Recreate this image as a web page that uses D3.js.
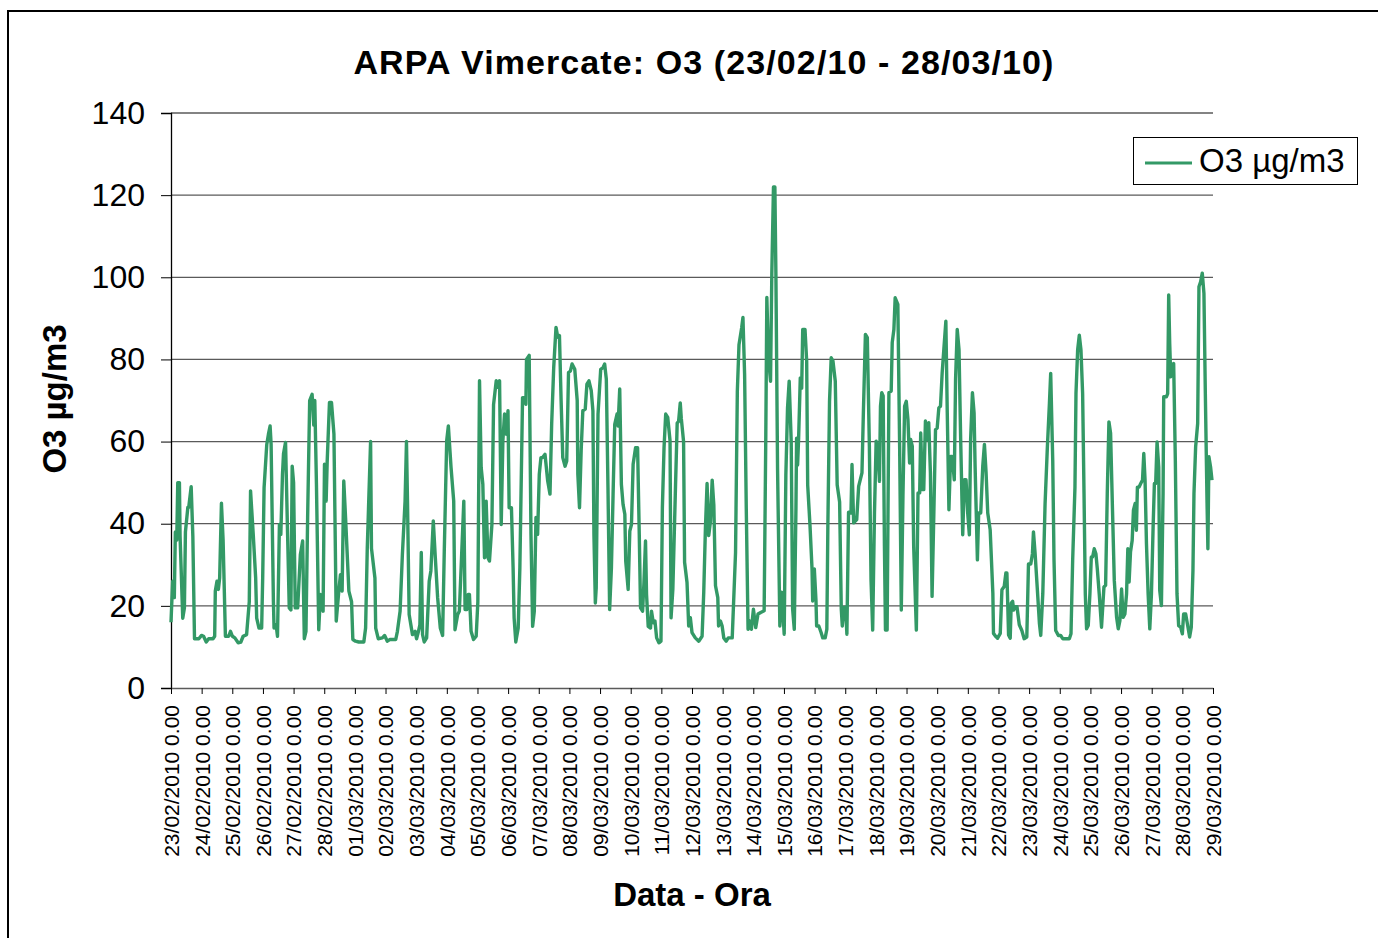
<!DOCTYPE html>
<html>
<head>
<meta charset="utf-8">
<script src="https://cdn.jsdelivr.net/npm/d3@7"></script>
<style>
  html, body { margin: 0; padding: 0; background: #fff; }
  svg { display: block; font-family: "Liberation Sans", Arial, sans-serif; }
</style>
</head>
<body>
<svg id="chart" width="1378" height="938"></svg>
<script>
// hours since 23/02/2010 0.00 and O3 (µg/m3)
const hours = [
  0, 1.3, 2.6, 3.4, 4.5, 5.3, 6.6, 7.1, 9.2, 10.5, 11.3, 13.2, 13.9, 15.8, 17.1, 18.4, 21.8, 23.9, 25.5, 27.6,
  29.5, 32.9, 34.2, 34.7, 36, 37.1, 38.1, 39.5, 40.8, 42.6, 45.2, 46.6, 48.1, 50, 52.6, 54.7, 56.5, 59.2, 61.3, 62.3,
  64.4, 66.3, 67.1, 68.9, 71, 71.8, 72.9, 75, 76.3, 77.6, 78.4, 80.2, 80.7, 82.3, 83.4, 84.9, 86, 87.3, 88.1, 89.7,
  91.3, 92.6, 93.9, 94.9, 96, 97.3, 99.2, 101.3, 103.1, 104.4, 105.7, 107, 108.6, 110.5, 111.8, 112.6, 113.9, 115.7, 117, 119.1,
  120.2, 121.5, 122.3, 124.1, 125.7, 127.6, 129.4, 131.4, 132.7, 134, 135.3, 136.7, 139.3, 141.4, 142.4, 144.5, 147, 151, 152.4, 153.7,
  156.3, 157, 159.7, 160.3, 162.3, 165.5, 167.3, 169.4, 171.3, 176, 177.3, 179.4, 181.2, 183.3, 184.4, 185.2, 186.5, 189.1, 191.2, 192.3,
  193.8, 194.9, 196, 197, 198.3, 200.2, 202.2, 203.5, 205.4, 207, 208.8, 210.9, 212.7, 214, 215.9, 217.2, 219.3, 221.4, 222.4, 224.5,
  225.8, 227.2, 229.3, 230.3, 231.6, 232.7, 233.7, 235, 236.9, 239, 240.3, 241.6, 242.9, 244.2, 245.5, 246.8, 248.2, 249.4, 251.3, 252.6,
  254.7, 256, 257.3, 258.6, 259.9, 261.2, 262.6, 263.9, 264.8, 266.6, 267.9, 268.7, 270, 271.9, 273.2, 275.3, 277.1, 277.9, 278.4, 280.5,
  281.9, 283.2, 284.5, 285.8, 287.1, 288.4, 289.7, 291, 292.9, 295, 296.8, 298.1, 299.7, 301.5, 302.9, 304.2, 305.5, 306.8, 308.6, 309.9,
  311.3, 312.8, 314.1, 316.2, 318.1, 318.6, 319.9, 321.2, 322.5, 324.4, 325.7, 327.3, 329.1, 330.4, 331.2, 332.3, 333, 334.4, 336.5, 338.3,
  339.6, 340.9, 342.2, 343.5, 344.9, 346.2, 347.5, 349.3, 350.1, 351.4, 352.7, 354, 355.4, 356.1, 358, 359.3, 360.6, 361.9, 363.8, 365.4,
  366.7, 367.7, 369.3, 370.3, 371.6, 372.4, 373.7, 375.5, 376.3, 377.7, 379, 380.3, 382.1, 383.7, 384.8, 386.1, 387.4, 389, 390.8, 391.6,
  393, 394.9, 396.4, 397.5, 398.8, 399.6, 401.4, 402.2, 404.1, 405.4, 406.7, 408, 410.6, 413.3, 415.9, 417.2, 418.5, 419.8, 421.1, 422.4,
  423.8, 425.1, 426.4, 428.2, 428.8, 430.3, 431.6, 432.9, 434.8, 436.4, 439.5, 442.1, 443.5, 444.8, 446.9, 447.9, 449.2, 450.5, 451.9, 453.4,
  454.5, 456.1, 457.9, 459.7, 461.8, 464.5, 465.8, 466.6, 467.9, 469.5, 470.5, 471.8, 472.9, 473.7, 475, 476.8, 478.1, 478.9, 480.2, 481.5,
  482.8, 484.1, 485.7, 486.8, 488.1, 489.4, 489.9, 490.7, 491.5, 492.8, 493.9, 494.7, 496.5, 497.8, 498.6, 500.4, 502, 502.5, 503.8, 505.1,
  505.6, 507.3, 509.1, 510.4, 512.3, 513.6, 514.4, 515.7, 517, 518.4, 520.2, 521.7, 523.6, 524.9, 525.7, 527, 528.3, 529.3, 530.6, 532.5,
  533.3, 534.6, 537, 538.5, 541.1, 542.2, 543.8, 545.3, 546.9, 548.2, 549.5, 550.9, 552.2, 553.5, 554.8, 555.6, 556.6, 557.7, 558.7, 559.5,
  560.8, 562.2, 564, 564.8, 566.1, 567.1, 569.2, 570.6, 571.9, 573.2, 574.5, 575.8, 577.1, 578.4, 579.2, 580.5, 581.6, 583.7, 585, 586.3,
  587.1, 588.4, 589.5, 590.8, 592.1, 593.4, 594.7, 596, 597.4, 598.7, 600, 601.3, 602.6, 603.9, 605.2, 606.8, 607.9, 609.2, 610.5, 611.8,
  613.4, 614.4, 615.7, 617.1, 618.4, 620, 621.3, 622.6, 623.9, 625.2, 626.2, 627.6, 628.9, 629.7, 631.5, 632.5, 634.1, 635.7, 637, 638.3,
  639.6, 641.5, 643.6, 644.1, 646, 647.3, 649.4, 650.7, 652.5, 653.8, 654.6, 655.9, 657.2, 658, 659.1, 659.9, 661.2, 662.5, 664.3, 666.3,
  668.1, 670.2, 671.5, 673.3, 674.6, 675.4, 676.7, 678.5, 680.1, 681.1, 682.7, 684.5, 686.3, 687.9, 688.9, 690.5, 691.5, 692.8, 694.9, 696.7,
  698.3, 700.9, 703.5, 704.8, 706.1, 707.9, 708.7, 710, 711.3, 712.6, 713.9, 715, 716, 717, 718.3, 719.6, 720.7, 721.7, 723, 724.3,
  725.4, 726.9, 728.7, 730.6, 731.9, 733.2, 734.5, 735.8, 737.3, 738.7, 740.5, 741.8, 743.1, 744.4, 745.7, 747, 748.3, 749.3, 750.3, 751.4,
  752.7, 753.7, 755, 756, 756.8, 758.1, 759.4, 760.8, 761.8, 762.8, 763.9, 765.2, 766.5, 767.8, 769.1, 770.1, 771.1, 772.2, 773.5, 774.3,
  775.6, 776.9, 777.4, 779.5, 780.5, 781.3, 782.1, 782.9, 783.9, 785.2, 786.5, 787.8, 789.1, 790.7, 792, 793, 794.6, 796.4, 797.7, 799,
  800.3, 801.1, 802.4, 804, 805, 806.3, 807.6, 808.9, 810, 811.3, 812, 812.8, 814.1, 815.2
];
const o3 = [
  16, 26, 22, 38, 36, 50, 50, 37, 17, 19.5, 38, 44, 44, 49, 37, 12, 12, 12.8, 12.6, 11.2,
  12, 12, 12.6, 23.6, 26, 24, 26.8, 45, 36, 12.6, 12.6, 13.8, 12.6, 12.2, 11, 11.2, 12.6, 13, 21, 48,
  37.4, 26.8, 17, 14.6, 14.6, 26.8, 48.8, 59.3, 61.8, 63.8, 59.3, 21, 14.6, 15.4, 12.6, 39.8, 37.4, 52, 57, 59.8,
  37.4, 19.5, 19, 54, 50, 19.5, 19.5, 32.5, 35.8, 12, 13.8, 41.5, 70, 71.5, 64, 70, 49.6, 14.2, 22.8, 18.7,
  54.5, 45.5, 55, 69.5, 69.5, 61.8, 16.3, 23.6, 27.6, 23.6, 50.4, 41.5, 23.6, 21, 11.8, 11.4, 11.2, 11.2, 14.6, 34,
  60, 34, 26.8, 14.6, 12, 12.2, 12.8, 11.4, 11.8, 11.8, 13.8, 18.7, 32.5, 45.5, 60, 45.5, 17.9, 13, 13.8, 12,
  13.8, 15.4, 33, 13, 11.2, 12.2, 26, 28.5, 40.7, 31.7, 22, 14.6, 12.8, 33.3, 60.2, 63.8, 53.7, 45.5, 14.2, 17.9,
  18.7, 29.3, 45.5, 19.1, 19.1, 22.8, 22.8, 13.8, 11.8, 12.6, 21, 74.8, 53.7, 49.6, 31.7, 45.5, 31.7, 30.9, 39.8, 69,
  74.8, 73.2, 74.8, 39.8, 60.2, 66.7, 61.8, 67.5, 43.9, 43.9, 29.3, 17.1, 11.2, 14.6, 29.3, 70.7, 70.7, 69.1, 80, 81,
  37.4, 15, 18.7, 41.5, 37.4, 52, 56.1, 56.1, 56.9, 50.4, 47.2, 64.2, 78, 87.8, 85.4, 85.8, 70, 56.1, 54, 55.3,
  76.8, 77.2, 78.9, 77.6, 70, 52, 43.9, 57.7, 67.5, 67.9, 74, 74.8, 72.4, 67.5, 37.4, 20.7, 24.4, 66.7, 77.6, 78,
  78.9, 75.2, 48.8, 19.1, 29.3, 47.2, 64.2, 66.7, 63.8, 72.8, 49.6, 44.7, 42.3, 30.9, 24, 38.2, 39.8, 54.5, 58.5, 58.5,
  37.4, 19.5, 18.7, 25.2, 35.8, 22.8, 15, 14.6, 18.7, 15.9, 16.3, 12.2, 11, 11.4, 43.9, 58.5, 66.7, 65.9, 60.2, 17.1,
  24, 46.9, 64.5, 64.9, 69.4, 65.7, 60, 30.6, 25.7, 15.1, 17.1, 13.5, 12.2, 11.4, 12.6, 23.3, 38.8, 49.8, 37.1, 40.4,
  50.6, 44.5, 24.9, 22, 15.1, 16.3, 15.1, 12.2, 11.4, 12.2, 12.2, 33, 72.2, 83.6, 87.7, 90.2, 76.3, 43.7, 14.3, 16.3,
  14.3, 19.2, 14.7, 18, 18.4, 18.8, 61.6, 95.1, 80.4, 74.7, 100.8, 122, 122, 100.8, 53.4, 15.1, 23.3, 20, 13.1, 51.8,
  68.1, 74.7, 60, 19.2, 14.3, 43.7, 60.8, 54.3, 60.8, 75.5, 73, 87.3, 87.3, 79.6, 49.4, 39.6, 29, 21.2, 29, 21.2,
  15.1, 15.1, 13.5, 12.2, 12.2, 14.3, 39.6, 69.8, 80.4, 79.6, 74.7, 49.4, 45.3, 19.2, 15.1, 19.6, 19.6, 13.1, 42.8, 42.6,
  54.4, 40.2, 41, 49.1, 52.4, 67, 86.1, 85.3, 58.9, 26.3, 14.1, 42.6, 60.1, 58.5, 50.3, 68.6, 71.9, 71.1, 34.5, 14.1,
  14.1, 71.9, 72.3, 84.1, 87.3, 95, 93.4, 58.9, 19, 46.7, 68.6, 69.8, 65.4, 54.8, 60.5, 58.9, 34.5, 14.1, 47.5, 47.5,
  62.1, 48.3, 48.3, 65, 60.5, 64.6, 52.4, 22.3, 42.6, 62.9, 63.3, 68.2, 68.6, 76.7, 82.4, 89.3, 67, 43.4, 56.4, 56.4,
  50.7, 75.1, 87.3, 82.4, 60.5, 37.3, 50.7, 50.7, 42.6, 37.3, 60.5, 71.9, 67, 54, 31.2, 42.6, 42.6, 54, 59.3, 52.4,
  42.6, 38.5, 23.1, 13.3, 12.5, 12.1, 13.3, 23.9, 24.7, 28, 28, 12.9, 12.1, 20.7, 21.1, 19, 19.8, 19.8, 15.4, 14,
  12, 12.4, 30.2, 30.2, 32.7, 38, 32.7, 23.7, 15.6, 12.8, 22.9, 44.9, 58.7, 69.3, 76.6, 55.4, 31.1, 14, 12.8, 12.8,
  12, 12, 12, 13.2, 31.1, 48.9, 71.7, 82.3, 85.9, 82.3, 71.7, 47.3, 22.9, 14.4, 15.2, 22.9, 31.9, 31.9, 33.9, 32.7,
  29, 22.9, 14.8, 24.6, 25, 47.3, 64.8, 62, 43.3, 26.2, 17.2, 14.4, 16.4, 24.1, 17.2, 18, 22.9, 33.9, 25.8, 33.1,
  35.9, 43.3, 44.9, 38.4, 48.9, 48.9, 49.8, 50.6, 57.1, 50.6, 35.1, 22.9, 14.4, 22.9, 39.2, 49.8, 49.8, 59.9, 53.8, 23.7,
  20.1, 47.3, 70.9, 70.9, 71.7, 95.7, 83.9, 75.8, 77.4, 79, 55.4, 22.9, 15.2, 14.8, 13.2, 18, 18, 14.8, 12.4, 14.8,
  28.6, 47.3, 58.7, 64.4, 97.7, 98.9, 101, 96.1, 71.7, 45.7, 33.9, 56.3, 53.8, 50.6
];
const yTicks = [0, 20, 40, 60, 80, 100, 120, 140];
const startDate = Date.UTC(2010, 1, 23);
const endDate = Date.UTC(2010, 2, 29);
const chartTitle = "ARPA Vimercate: O3 (23/02/10 - 28/03/10)";
const seriesName = "O3 µg/m3";

const svg = d3.select("#chart");
const margin = { left: 171, top: 113, right: 1213, bottom: 688 };
const lineColor = "#339966";

// outer frame
svg.append("rect")
  .attr("x", 8).attr("y", 11)
  .attr("width", 1400).attr("height", 960)
  .attr("fill", "#fff").attr("stroke", "#000").attr("stroke-width", 2);

const x = d3.scaleUtc()
  .domain([new Date(startDate), new Date(endDate)])
  .range([margin.left, margin.right]);
const y = d3.scaleLinear()
  .domain([0, 140])
  .range([margin.bottom, margin.top]);

// gridlines
svg.append("g")
  .selectAll("line")
  .data(yTicks.filter(d => d > 0))
  .join("line")
  .attr("x1", margin.left).attr("x2", margin.right)
  .attr("y1", d => y(d)).attr("y2", d => y(d))
  .attr("stroke", "#5a5a5a").attr("stroke-width", 1.3);

// y axis
const yAxis = svg.append("g")
  .attr("transform", `translate(${margin.left},0)`)
  .call(d3.axisLeft(y).tickValues(yTicks).tickSize(10).tickPadding(16));
yAxis.select(".domain").attr("stroke", "#000").attr("stroke-width", 1.3);
yAxis.selectAll(".tick line").attr("stroke", "#000");
yAxis.selectAll("text")
  .attr("font-size", 32).attr("fill", "#000")
  .attr("font-family", "'Liberation Sans', Arial, sans-serif");

// x axis
const xAxis = svg.append("g")
  .attr("transform", `translate(0,${margin.bottom})`)
  .call(d3.axisBottom(x)
    .ticks(d3.utcDay.every(1))
    .tickFormat(d3.utcFormat("%d/%m/%Y %-H.%M"))
    .tickSize(6).tickSizeOuter(0));
xAxis.select(".domain").attr("stroke", "#5a5a5a").attr("stroke-width", 1.5);
xAxis.selectAll(".tick line").attr("stroke", "#000");
xAxis.selectAll("text")
  .attr("font-size", 21).attr("fill", "#000")
  .attr("font-family", "'Liberation Sans', Arial, sans-serif")
  .attr("text-anchor", "end")
  .attr("transform", "rotate(-90)")
  .attr("x", -17).attr("y", 0).attr("dy", "0.35em");

// series
const points = hours.map((h, i) => ({ t: new Date(startDate + h * 3600e3), v: o3[i] }));
svg.append("path")
  .datum(points)
  .attr("fill", "none")
  .attr("stroke", lineColor)
  .attr("stroke-width", 3.4)
  .attr("stroke-linejoin", "round")
  .attr("d", d3.line().x(d => x(d.t)).y(d => y(d.v)));

// titles
svg.append("text")
  .attr("x", 704).attr("y", 74)
  .attr("text-anchor", "middle")
  .attr("font-size", 34).attr("font-weight", "bold")
  .attr("letter-spacing", 1.1)
  .text(chartTitle);

svg.append("text")
  .attr("x", 692).attr("y", 906)
  .attr("text-anchor", "middle")
  .attr("font-size", 33).attr("font-weight", "bold")
  .text("Data - Ora");

svg.append("text")
  .attr("transform", "translate(66,399) rotate(-90)")
  .attr("text-anchor", "middle")
  .attr("font-size", 33).attr("font-weight", "bold")
  .text("O3 µg/m3");

// legend
const legend = svg.append("g");
legend.append("rect")
  .attr("x", 1133.5).attr("y", 137.5)
  .attr("width", 224).attr("height", 47)
  .attr("fill", "#fff").attr("stroke", "#000").attr("stroke-width", 1);
legend.append("line")
  .attr("x1", 1145).attr("x2", 1192)
  .attr("y1", 163).attr("y2", 163)
  .attr("stroke", lineColor).attr("stroke-width", 3);
legend.append("text")
  .attr("x", 1199).attr("y", 172)
  .attr("font-size", 33)
  .text(seriesName);
</script>
</body>
</html>
